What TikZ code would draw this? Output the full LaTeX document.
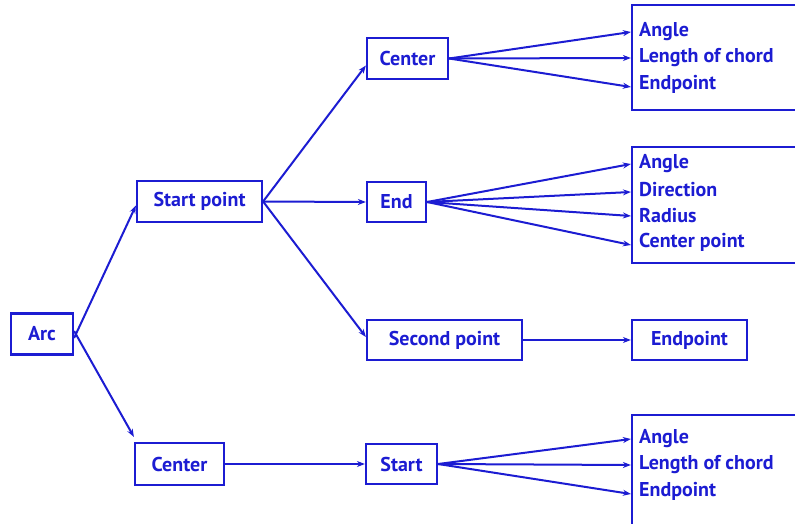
\documentclass[tikz,border=0pt]{standalone}
\usepackage{fontspec}
\setmainfont{PT Sans}
\usetikzlibrary{arrows.meta,calc}
\definecolor{dblue}{RGB}{28,28,210}
\tikzset{
  box/.style={draw=dblue, line width=2.2pt, inner sep=0pt, text=dblue, font=\bfseries\fontsize{20}{24}\selectfont},
  lbl/.style={anchor=west, inner sep=0pt, text=dblue, font=\bfseries\fontsize{20}{24}\selectfont},
  arr/.style={draw=dblue, line width=2pt, -{Stealth[length=8pt,width=6pt]}},
}
\begin{document}
\begin{tikzpicture}[x=1pt,y=-1pt]
\useasboundingbox (0,0) rectangle (795,524);
\clip (0,0) rectangle (795,524);
% left nodes
\node[box, minimum width=62pt, minimum height=41pt] (arc) at (42,334) {Arc};
\node[box, minimum width=125pt, minimum height=41pt] (sp) at (199.5,201.5) {Start point};
\node[box, minimum width=89pt, minimum height=42pt] (cl) at (179.5,464) {Center};
\node[box, minimum width=81pt, minimum height=41pt] (ct) at (407.5,58.5) {Center};
\node[box, minimum width=59pt, minimum height=40pt] (en) at (396.5,202) {End};
\node[box, minimum width=155pt, minimum height=40pt] (sc) at (444.5,340) {Second point};
\node[box, minimum width=71pt, minimum height=40pt] (st) at (401.5,464) {Start};
% right boxes
\node[box, minimum width=180pt, minimum height=105pt] (rt) at (722,57.5) {};
\node[box, minimum width=180pt, minimum height=116pt] (rm) at (722,205) {};
\node[box, minimum width=115pt, minimum height=40pt] (ep) at (689.5,340) {Endpoint};
\node[box, minimum width=180pt, minimum height=140pt] (rb) at (722,485) {};
% right box texts
\node[lbl] (t1) at (639,32) {Angle};
\node[lbl] (t2) at (639,58) {Length of chord};
\node[lbl] (t3) at (639,84) {Endpoint};
\node[lbl] (m1) at (639,164) {Angle};
\node[lbl] (m2) at (639,190) {Direction};
\node[lbl] (m3) at (639,216) {Radius};
\node[lbl] (m4) at (639,242) {Center point};
\node[lbl] (b1) at (639,439) {Angle};
\node[lbl] (b2) at (639,465) {Length of chord};
\node[lbl] (b3) at (639,491) {Endpoint};
% connectors
\draw[arr] ([yshift=-4pt]arc.east) -- ([yshift=-4pt]sp.west);
\draw[arr] ([yshift=3pt]arc.east) -- ([yshift=5pt]cl.north west);
\draw[arr] (sp.east) -- ([yshift=-7pt]ct.west);
\draw[arr] (sp.east) -- (en.west);
\draw[arr] (sp.east) -- ([yshift=3pt]sc.west);
\draw[arr] (cl.east) -- (st.west);
\draw[arr] (sc.east) -- (ep.west);
\draw[arr] (ct.east) -- (rt.west |- t1);
\draw[arr] (ct.east) -- (rt.west |- t2);
\draw[arr] (ct.east) -- ([yshift=-3pt]rt.west |- t3);
\draw[arr] (en.east) -- (rm.west |- m1);
\draw[arr] (en.east) -- ([yshift=-2pt]rm.west |- m2);
\draw[arr] (en.east) -- (rm.west |- m3);
\draw[arr] (en.east) -- ([yshift=-3pt]rm.west |- m4);
\draw[arr] (st.east) -- (rb.west |- b1);
\draw[arr] (st.east) -- (rb.west |- b2);
\draw[arr] (st.east) -- ([yshift=-3pt]rb.west |- b3);
\end{tikzpicture}
\end{document}
